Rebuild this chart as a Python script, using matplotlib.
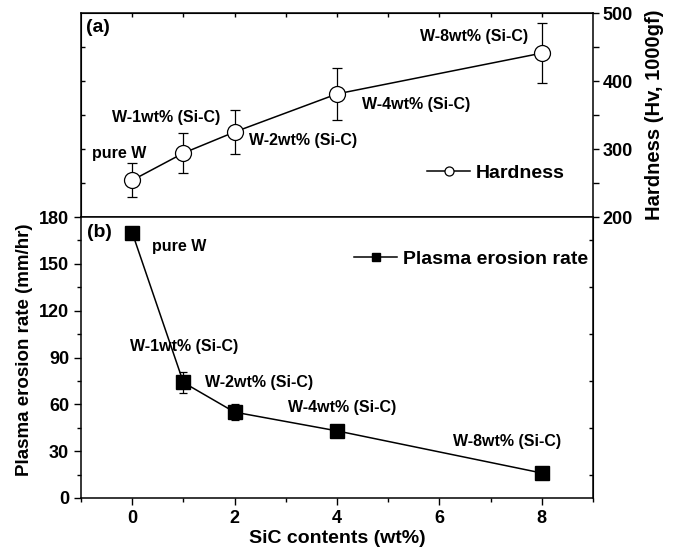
import matplotlib.pyplot as plt
from matplotlib.lines import Line2D
import numpy as np

plt.rcParams['font.family'] = ['Liberation Sans', 'DejaVu Sans']
plt.rcParams['font.weight'] = 'bold'
plt.rcParams['axes.labelweight'] = 'bold'

sic = [0, 1, 2, 4, 8]
labels = ['pure W', 'W-1wt% (Si-C)', 'W-2wt% (Si-C)', 'W-4wt% (Si-C)', 'W-8wt% (Si-C)']

hardness = [254, 294, 325, 381, 441]
hardness_err = [25, 29, 33, 38, 44]

erosion = [170, 74, 55, 43, 16]
erosion_err = [3, 7, 5, 2, 2]

# label positions (data coords)
hard_lab_x = [-0.79, -0.40, 2.28, 4.49, 5.62]
hard_lab_y = [294, 346, 313, 366, 465]
ero_lab_x = [0.38, -0.04, 1.43, 3.04, 6.27]
ero_lab_y = [161, 97, 74, 58, 36]

fig = plt.figure(figsize=(6.78, 5.56), dpi=100)
L, W = 81 / 678, 512 / 678
ax_top = fig.add_axes([L, 1 - 217 / 556, W, 204 / 556])
ax_bot = fig.add_axes([L, 1 - 498 / 556, W, 281 / 556])

for ax in (ax_top, ax_bot):
    for s in ax.spines.values():
        s.set_linewidth(1.1)
    ax.set_xlim(-1, 9)

# ---- top panel: hardness
ax_top.errorbar(sic, hardness, yerr=hardness_err, color='black', lw=1.1,
                marker='o', ms=11.5, mfc='white', mec='black', mew=0.9,
                ecolor='black', elinewidth=0.9, capsize=3.6, capthick=0.9)
ax_top.set_ylim(200, 500)
ax_top.yaxis.tick_right()
ax_top.yaxis.set_label_position('right')
ax_top.set_yticks([200, 300, 400, 500])
ax_top.set_yticks([250, 350, 450], minor=True)
ax_top.tick_params(axis='y', which='both', direction='out', length=4, width=1,
                   labelsize=13, pad=3)
ax_top.set_ylabel('Hardness (Hv, 1000gf)', fontsize=14.5, labelpad=9)
ax_top.set_xticks(np.arange(0, 9, 1))
ax_top.tick_params(axis='x', which='both', direction='out', length=4, width=1,
                   labelbottom=False)
sec = ax_top.secondary_xaxis('top')
sec.set_xticks(np.arange(0, 9, 1))
sec.tick_params(direction='in', length=3, width=1, labeltop=False)
secy = ax_top.secondary_yaxis('left')
secy.set_yticks(np.arange(250, 500, 50))
secy.tick_params(direction='in', length=3, width=1, labelleft=False)

ax_top.text(0.01, 0.97, '(a)', transform=ax_top.transAxes, fontsize=14,
            fontweight='bold', va='top', ha='left')
for x, y, t in zip(hard_lab_x, hard_lab_y, labels):
    ax_top.text(x, y, t, fontsize=11.5, fontweight='bold', va='center', ha='left')
h_top = Line2D([], [], color='black', lw=1.1, marker='o', ms=6.5,
               mfc='white', mec='black', mew=0.9)
ax_top.legend([h_top], ['Hardness'], loc='center right',
              bbox_to_anchor=(0.945, 0.216), frameon=False, fontsize=14,
              handlelength=2.2, handletextpad=0.3, borderpad=0,
              borderaxespad=0)

# ---- bottom panel: plasma erosion rate
ax_bot.errorbar(sic, erosion, yerr=erosion_err, color='black', lw=1.1,
                marker='s', ms=10, mfc='black', mec='black',
                ecolor='black', elinewidth=0.9, capsize=3, capthick=0.9)
ax_bot.set_ylim(0, 180)
ax_bot.set_yticks(np.arange(0, 181, 30))
ax_bot.set_yticks(np.arange(15, 180, 30), minor=True)
ax_bot.tick_params(axis='y', which='major', direction='out', length=5, width=1,
                   labelsize=13, right=False)
ax_bot.tick_params(axis='y', which='minor', direction='out', length=3, width=1,
                   right=False)
ax_bot.set_xticks([0, 2, 4, 6, 8])
ax_bot.set_xticks([-1, 1, 3, 5, 7, 9], minor=True)
ax_bot.tick_params(axis='x', which='major', direction='out', length=5, width=1,
                   labelsize=13, top=False)
ax_bot.tick_params(axis='x', which='minor', direction='out', length=3, width=1,
                   top=False)
ax_bot.set_xlabel('SiC contents (wt%)', fontsize=14, labelpad=2)
ax_bot.set_ylabel('Plasma erosion rate (mm/hr)', fontsize=13.5)
ax_bot.yaxis.set_label_coords(-0.094, 0.527)
secb = ax_bot.secondary_yaxis('right')
secb.set_yticks(np.arange(15, 180, 30))
secb.tick_params(direction='in', length=3, width=1, labelright=False)

ax_bot.text(-0.88, 170, '(b)', fontsize=14, fontweight='bold',
            va='center', ha='left')
for x, y, t in zip(ero_lab_x, ero_lab_y, labels):
    ax_bot.text(x, y, t, fontsize=11.5, fontweight='bold', va='center', ha='left')
h_bot = Line2D([], [], color='black', lw=1.1, marker='s', ms=6,
               mfc='black', mec='black')
ax_bot.legend([h_bot], ['Plasma erosion rate'], loc='center right',
              bbox_to_anchor=(0.99, 0.85), frameon=False, fontsize=14,
              handlelength=2.2, handletextpad=0.3, borderpad=0,
              borderaxespad=0)

fig.savefig('out.png', dpi=100)
